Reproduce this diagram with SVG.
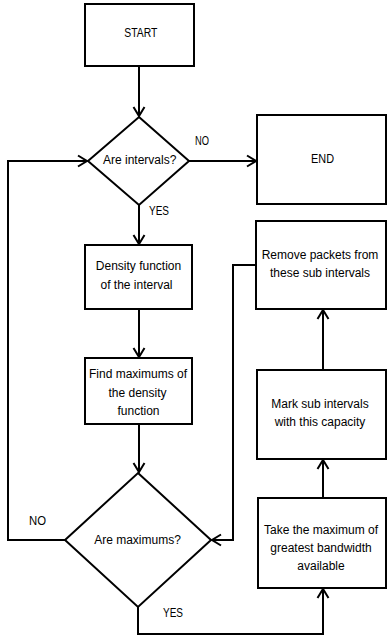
<svg xmlns="http://www.w3.org/2000/svg" width="387" height="641" viewBox="0 0 387 641">
<style>
.box{fill:#fff;stroke:#000;stroke-width:2}
.t{font-family:"Liberation Sans",Arial,sans-serif;font-size:12px;fill:#000;text-anchor:middle}
.l{font-family:"Liberation Sans",Arial,sans-serif;font-size:12px;fill:#000}
.c{fill:none;stroke:#000;stroke-width:2}
</style>
<defs>
<marker id="ah" markerUnits="userSpaceOnUse" markerWidth="12" markerHeight="12" viewBox="-10 -6 12 12" refX="0" refY="0" orient="auto" overflow="visible">
<path d="M-9,-5.5 L0,0 L-9,5.5" fill="none" stroke="#000" stroke-width="2"/>
</marker>
</defs>
<rect width="387" height="641" fill="#fff"/>
<g id="connectors">
<path class="c" d="M139,66 V116" marker-end="url(#ah)"/>
<path class="c" d="M189,161 H256" marker-end="url(#ah)"/>
<path class="c" d="M139,205 V244" marker-end="url(#ah)"/>
<path class="c" d="M139,309 V357" marker-end="url(#ah)"/>
<path class="c" d="M139,424 V472" marker-end="url(#ah)"/>
<path class="c" d="M65,540 H8 V161 H87" marker-end="url(#ah)"/>
<path class="c" d="M138,607 V634 H323 V589" marker-end="url(#ah)"/>
<path class="c" d="M323,498 V460" marker-end="url(#ah)"/>
<path class="c" d="M323,370 V310" marker-end="url(#ah)"/>
<path class="c" d="M256,265 H233 V540 H212" marker-end="url(#ah)"/>
<text class="l" x="195" y="145" textLength="14" lengthAdjust="spacingAndGlyphs">NO</text>
<text class="l" x="149" y="215" textLength="20" lengthAdjust="spacingAndGlyphs">YES</text>
<text class="l" x="29" y="525" textLength="17" lengthAdjust="spacingAndGlyphs">NO</text>
<text class="l" x="163" y="617" textLength="20" lengthAdjust="spacingAndGlyphs">YES</text>
</g>
<g id="start">
<rect class="box" x="85" y="4" width="109" height="62"/>
<text class="t" x="140.8" y="37" textLength="33" lengthAdjust="spacingAndGlyphs">START</text>
</g>
<g id="are-intervals">
<polygon class="box" points="139,117 189,161 139,205 88,161"/>
<text class="t" x="139.7" y="164">Are intervals?</text>
</g>
<g id="end">
<rect class="box" x="257" y="115" width="129" height="89"/>
<text class="t" x="322.5" y="162.5" textLength="23" lengthAdjust="spacingAndGlyphs">END</text>
</g>
<g id="density">
<rect class="box" x="85" y="245" width="107" height="64"/>
<text class="t" x="138.5" y="270">Density function</text>
<text class="t" x="136.5" y="288.5">of the interval</text>
</g>
<g id="find-max">
<rect class="box" x="85" y="358" width="107" height="66"/>
<text class="t" x="138" y="378">Find maximums of</text>
<text class="t" x="137.5" y="396.5">the density</text>
<text class="t" x="138.5" y="414.5">function</text>
</g>
<g id="are-maximums">
<polygon class="box" points="138,473 211,540 138,607 65,540"/>
<text class="t" x="137.5" y="543.5">Are maximums?</text>
</g>
<g id="remove">
<rect class="box" x="256" y="221" width="130" height="88"/>
<text class="t" x="320" y="258.5">Remove packets from</text>
<text class="t" x="320" y="276.5">these sub intervals</text>
</g>
<g id="mark">
<rect class="box" x="257" y="370" width="129" height="89"/>
<text class="t" x="320" y="407.5">Mark sub intervals</text>
<text class="t" x="320" y="426">with this capacity</text>
</g>
<g id="take">
<rect class="box" x="258" y="498" width="128" height="90"/>
<text class="t" x="321" y="534">Take the maximum of</text>
<text class="t" x="321" y="552">greatest bandwidth</text>
<text class="t" x="321" y="569.5">available</text>
</g>
</svg>
